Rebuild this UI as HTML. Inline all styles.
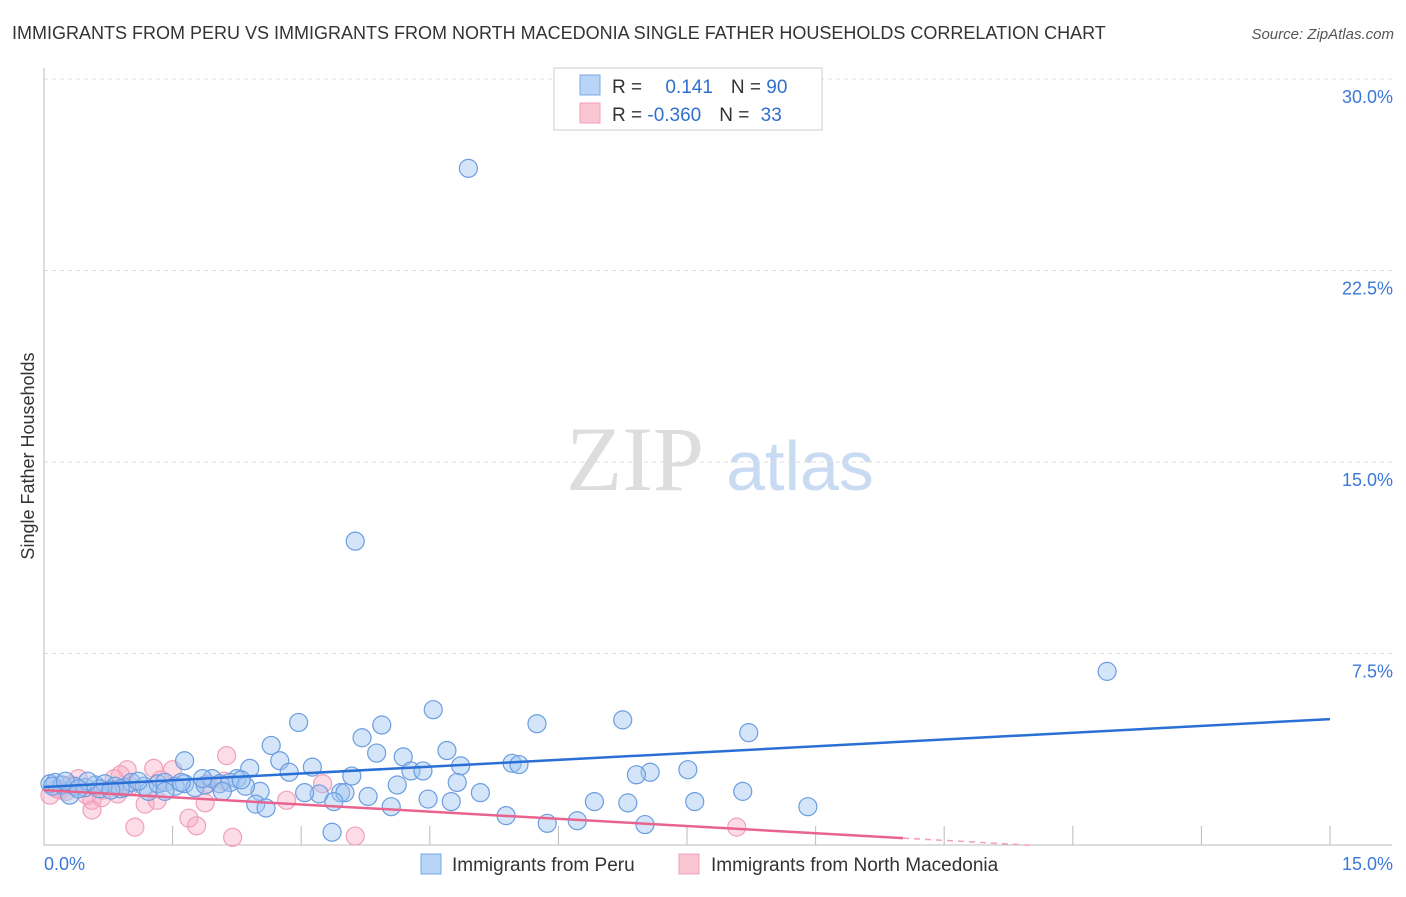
<!DOCTYPE html>
<html><head><meta charset="utf-8"><style>
body{margin:0;background:#fff;font-family:"Liberation Sans",sans-serif;}
</style></head><body>
<svg id="chart" width="1406" height="892" xmlns="http://www.w3.org/2000/svg" style="font-family:'Liberation Sans',sans-serif">
<text x="12" y="39" font-size="18" fill="#333">IMMIGRANTS FROM PERU VS IMMIGRANTS FROM NORTH MACEDONIA SINGLE FATHER HOUSEHOLDS CORRELATION CHART</text>
<text x="1394" y="39" font-size="15" fill="#555" text-anchor="end" font-style="italic">Source: ZipAtlas.com</text>
<text transform="translate(34,456) rotate(-90)" font-size="18" fill="#333" text-anchor="middle">Single Father Households</text>
<g><text x="635" y="490" font-size="92" fill="#ddd" font-family="Liberation Serif" text-anchor="middle">ZIP</text><text x="800" y="490" font-size="70" fill="#c9daf3" text-anchor="middle">atlas</text></g>
<g id="grid"></g><g id="axes"></g><g id="marks"></g>
<g>
<rect x="554" y="68" width="268" height="62" fill="#fff" stroke="#ccc"/>
<rect x="580" y="75" width="20" height="20" fill="#b8d4f6" stroke="#7aa8e6"/>
<rect x="580" y="103" width="20" height="20" fill="#fbc6d4" stroke="#f0a0b8"/>
<text x="612" y="93" font-size="19" fill="#333">R = <tspan fill="#2f6fd0" dx="18">0.141</tspan><tspan dx="18" fill="#333">N = </tspan><tspan fill="#2f6fd0">90</tspan></text>
<text x="612" y="121" font-size="19" fill="#333">R = <tspan fill="#2f6fd0">-0.360</tspan><tspan dx="18" fill="#333">N = </tspan><tspan fill="#2f6fd0" dx="6">33</tspan></text>
</g>
<g>
<rect x="421" y="854" width="20" height="20" fill="#b8d4f6" stroke="#7aa8e6"/>
<text x="452" y="871" font-size="19" fill="#333">Immigrants from Peru</text>
<rect x="679" y="854" width="20" height="20" fill="#fbc6d4" stroke="#f0a0b8"/>
<text x="711" y="871" font-size="19" fill="#333">Immigrants from North Macedonia</text>
</g>
</svg>
<script>
const yTicks=[7.5,15,22.5,30];
const yTickLabels=["7.5%","15.0%","22.5%","30.0%"];
const xTicks=[0,1.5,3,4.5,6,7.5,9,10.5,12,13.5,15];
const peruX=[4.95,3.63,12.4,2.97,4.54,3.94,5.75,6.75,8.22,2.65,3.71,4.70,3.88,4.19,1.64,2.75,3.13,5.46,5.54,4.86,7.51,7.07,6.91,4.28,4.42,2.86,2.40,3.59,2.25,4.82,5.09,4.12,8.15,2.52,3.21,3.46,3.51,3.04,3.78,4.48,4.75,6.42,6.81,7.59,8.91,3.38,2.47,2.59,4.05,5.39,5.87,6.22,7.01,3.36,0.07,0.13,0.21,0.3,0.36,0.48,0.6,0.71,0.83,0.94,1.02,1.17,1.22,1.33,1.41,1.53,1.64,1.76,1.88,1.96,2.05,2.17,2.35,2.08,1.41,0.65,0.51,0.89,0.1,0.25,1.1,1.85,2.3,0.4,0.78,1.6];
const peruY=[26.5,11.9,6.8,4.8,5.3,4.7,4.75,4.9,4.4,3.9,4.2,3.7,3.6,3.45,3.3,3.3,3.05,3.2,3.15,3.1,2.95,2.85,2.75,2.9,2.9,2.85,3.0,2.7,2.6,2.45,2.05,2.35,2.1,2.1,2.0,2.05,2.05,2.05,1.9,1.8,1.7,1.7,1.65,1.7,1.5,1.7,1.6,1.45,1.5,1.15,0.85,0.95,0.8,0.5,2.4,2.45,2.35,1.95,2.3,2.25,2.35,2.4,2.3,2.25,2.45,2.3,2.1,2.4,2.45,2.3,2.4,2.25,2.35,2.6,2.4,2.45,2.3,2.1,2.1,2.2,2.5,2.2,2.3,2.5,2.5,2.6,2.55,2.2,2.15,2.45];
const macX=[2.13,1.28,0.97,1.5,0.89,0.82,1.36,3.25,1.91,0.4,0.3,0.19,0.07,0.69,0.5,0.56,0.67,0.56,1.18,1.32,0.86,2.83,1.88,1.69,1.78,1.06,2.2,3.63,8.08,0.26,0.15,1.0,2.1];
const macY=[3.5,3.0,2.95,2.95,2.75,2.6,2.55,2.4,2.4,2.6,2.35,2.15,1.95,2.15,1.95,1.75,1.85,1.37,1.6,1.75,2.0,1.75,1.65,1.05,0.75,0.7,0.3,0.35,0.7,2.1,2.2,2.3,2.5];
const peruTrend=[2.27,4.93];
const macTrend=[2.15,0.27];
const macTrendEnd=10.02;
const X0=44,X1=1330,Y0=845,Y1=79;
const sx=v=>X0+(X1-X0)*v/15;
const sy=v=>Y0-(Y0-Y1)*v/30;
const NS="http://www.w3.org/2000/svg";
function mk(tag,attrs,parent){const e=document.createElementNS(NS,tag);for(const k in attrs)e.setAttribute(k,attrs[k]);parent.appendChild(e);return e;}
const grid=document.getElementById('grid'),axes=document.getElementById('axes'),marks=document.getElementById('marks');
yTicks.forEach((t,i)=>{
 const l=mk('line',{x1:X0,x2:1392,y1:sy(t),y2:sy(t),stroke:'#ddd','stroke-dasharray':'4,4'},grid);
 
 
 const tx=mk('text',{x:1393,y:sy(t)+24,'font-size':18,fill:'#3b78d8','text-anchor':'end'},axes);
 tx.textContent=yTickLabels[i];
 
 
});
const ax=mk('line',{x1:X0,x2:X0,y1:68,y2:Y0,stroke:'#bbb'},axes);


const bx=mk('line',{x1:X0,x2:1392,y1:Y0,y2:Y0,stroke:'#bbb'},axes);


xTicks.forEach((t,i)=>{if(i==0)return;
 const l=mk('line',{x1:sx(t),x2:sx(t),y1:Y0,y2:Y0-19,stroke:'#bbb'},axes);
 
 
});
const xl0=mk('text',{x:44,y:870,'font-size':18,fill:'#3b78d8'},axes);xl0.textContent='0.0%';


const xl1=mk('text',{x:1393,y:870,'font-size':18,fill:'#3b78d8','text-anchor':'end'},axes);xl1.textContent='15.0%';


macX.forEach((x,i)=>{
 const c=mk('circle',{cx:sx(x),cy:sy(macY[i]),r:9,fill:'rgba(248,170,195,0.4)',stroke:'#f0a0b8','stroke-width':1.2},marks);
 
 
});
peruX.forEach((x,i)=>{
 const c=mk('circle',{cx:sx(x),cy:sy(peruY[i]),r:9,fill:'rgba(160,198,242,0.45)',stroke:'#6b9de0','stroke-width':1.2},marks);
 
 
});
const pl=mk('line',{x1:sx(0),y1:sy(peruTrend[0]),x2:sx(15),y2:sy(peruTrend[1]),stroke:'#2a6fd6','stroke-width':2.5},marks);


const ml=mk('line',{x1:sx(0),y1:sy(macTrend[0]),x2:sx(macTrendEnd),y2:sy(macTrend[1]),stroke:'#e8648e','stroke-width':2.5},marks);


const slope=(macTrend[1]-macTrend[0])/macTrendEnd;
const md=mk('line',{x1:sx(macTrendEnd),y1:sy(macTrend[1]),x2:sx(11.5),y2:sy(macTrend[0]+slope*11.5),stroke:'#f0a0b8','stroke-width':1.5,'stroke-dasharray':'6,5'},marks);


</script>
</body></html>
